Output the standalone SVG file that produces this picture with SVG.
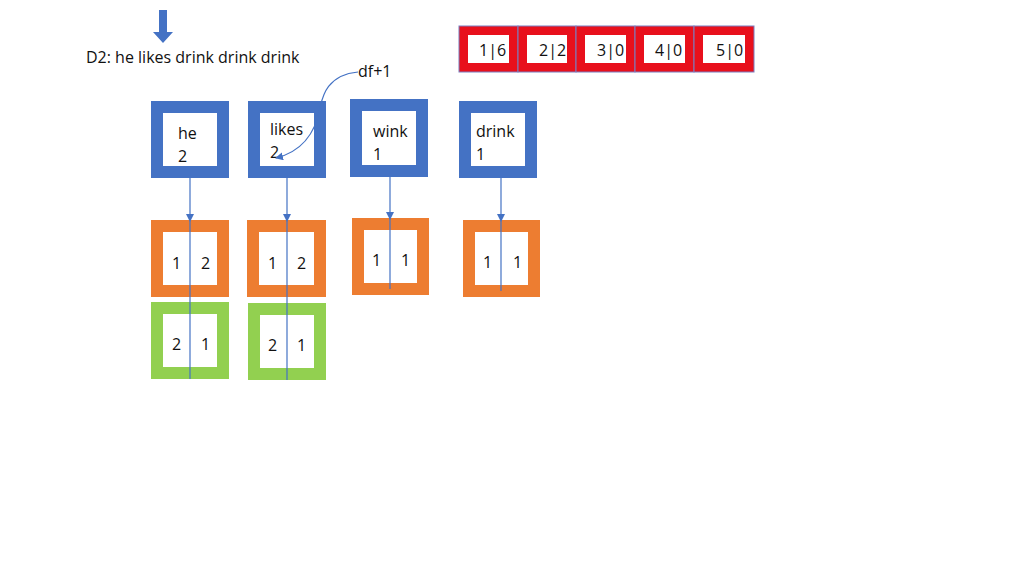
<svg xmlns="http://www.w3.org/2000/svg" width="1024" height="576" viewBox="0 0 1024 576">
<style>
text{font-family:"Open Sans","Liberation Sans",sans-serif;font-size:16px;fill:#111}
.b{fill:#fff;stroke:#4472c4;stroke-width:12}
.o{fill:#fff;stroke:#ed7d31;stroke-width:12}
.g{fill:#fff;stroke:#92d050;stroke-width:12}
.r{fill:#fff;stroke:#e8101c;stroke-width:9}
.ro{fill:none;stroke:#7a7fc0;stroke-width:1}
.l{stroke:#4472c4;stroke-width:1.2;fill:none}
</style>
<defs><marker id="a" markerWidth="8" markerHeight="8" refX="7" refY="4" orient="auto" markerUnits="userSpaceOnUse"><path d="M0,0L8,4L0,8z" fill="#4472c4"/></marker></defs>
<path d="M159,10h8v22h6l-10,11l-10,-11h6z" fill="#4472c4"/>
<text x="86" y="63">D2:  he likes drink drink drink</text>
<g id="vec">
<g id="v1"><rect class="r" x="463.5" y="30.5" width="50" height="37"/><rect class="ro" x="459" y="26" width="59" height="46"/><text x="479" y="56">1|6</text></g>
<g id="v2"><rect class="r" x="522.5" y="30.5" width="49" height="37"/><rect class="ro" x="518" y="26" width="58" height="46"/><text x="539" y="56">2|2</text></g>
<g id="v3"><rect class="r" x="580.5" y="30.5" width="50" height="37"/><rect class="ro" x="576" y="26" width="59" height="46"/><text x="597" y="56">3|0</text></g>
<g id="v4"><rect class="r" x="639.5" y="30.5" width="50" height="37"/><rect class="ro" x="635" y="26" width="59" height="46"/><text x="655" y="56">4|0</text></g>
<g id="v5"><rect class="r" x="698.5" y="30.5" width="51" height="37"/><rect class="ro" x="694" y="26" width="60" height="46"/><text x="716" y="56">5|0</text></g>
</g>
<g id="he"><rect class="b" x="157" y="107" width="66" height="65"/><text x="178" y="139">he</text><text x="178" y="162">2</text></g>
<g id="likes"><rect class="b" x="254" y="107" width="66" height="65"/><text x="270" y="135">likes</text><text x="270" y="158">2</text></g>
<g id="wink"><rect class="b" x="356" y="105" width="66" height="66"/><text x="373" y="137">wink</text><text x="373" y="160">1</text></g>
<g id="drink"><rect class="b" x="465" y="107" width="66" height="65"/><text x="476" y="137">drink</text><text x="476" y="160">1</text></g>
<g id="he1"><rect class="o" x="157" y="226" width="66" height="65"/><text x="172" y="269">1</text><text x="201" y="269">2</text></g>
<g id="likes1"><rect class="o" x="253" y="226" width="67" height="65"/><text x="268" y="269">1</text><text x="297" y="269">2</text></g>
<g id="wink1"><rect class="o" x="358" y="224" width="65" height="65"/><text x="372" y="266">1</text><text x="401" y="266">1</text></g>
<g id="drink1"><rect class="o" x="469" y="226" width="65" height="65"/><text x="483" y="268">1</text><text x="513" y="268">1</text></g>
<g id="he2"><rect class="g" x="157" y="308" width="66" height="65"/><text x="172" y="350">2</text><text x="201" y="350">1</text></g>
<g id="likes2"><rect class="g" x="254" y="309" width="66" height="65"/><text x="268" y="351">2</text><text x="297" y="351">1</text></g>
<text x="358" y="77">df+1</text>
<g id="connectors">
<line class="l" x1="190" y1="178" x2="190" y2="221" marker-end="url(#a)"/><line class="l" x1="190" y1="221" x2="190" y2="379"/>
<line class="l" x1="287" y1="178" x2="287" y2="221" marker-end="url(#a)"/><line class="l" x1="287" y1="221" x2="287" y2="380"/>
<line class="l" x1="390" y1="177" x2="390" y2="219" marker-end="url(#a)"/><line class="l" x1="390" y1="219" x2="390" y2="289"/>
<line class="l" x1="501" y1="178" x2="501" y2="221" marker-end="url(#a)"/><line class="l" x1="501" y1="221" x2="501" y2="291"/>
<path class="l" d="M358,72C325,75 322,100 320,108C315,135 300,152 276,158" marker-end="url(#a)"/>
</g>
</svg>
